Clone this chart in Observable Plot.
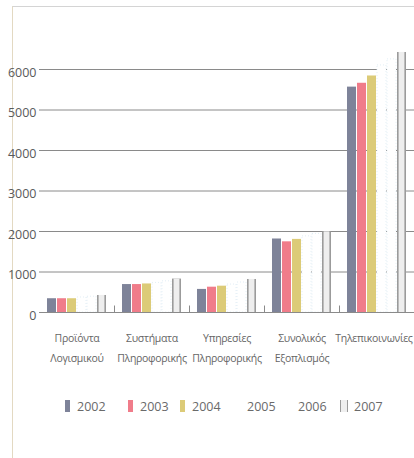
<!DOCTYPE html>
<html>
<head>
<meta charset="utf-8">
<script src="https://cdn.jsdelivr.net/npm/d3@7"></script>
<script src="https://cdn.jsdelivr.net/npm/@observablehq/plot@0.6"></script>
<style>
  html, body { margin: 0; padding: 0; background: #fff; }
  body { width: 414px; height: 458px; position: relative; overflow: hidden; font-family: "Open Sans", "Noto Sans", sans-serif; }
  #frame { position: absolute; left: 12px; top: 6px; right: 0; bottom: 0; border-left: 1px solid #e3d9c2; border-top: 1px solid #d4d4d4; }
  #chart { position: absolute; left: 0; top: 0; }
  #legend { position: absolute; left: 0; top: 398px; width: 414px; height: 20px; font-size: 12.5px; color: #6a6a6a; }
  .item { position: absolute; top: 0; display: flex; align-items: center; height: 16px; }
  .sw { display: inline-block; width: 5px; height: 12px; margin-right: 7px; }
  .sw7 { width: 6px; height: 12px; border-left: 1.5px solid #9b9b9b; border-right: 1.5px solid #9b9b9b; background: #efefef; margin-right: 6px; }
  .catlabel { letter-spacing: -0.3px; }
</style>
</head>
<body>
<div id="frame"></div>
<div id="chart"></div>
<div id="legend"></div>
<script>
const categories = ["Προϊόντα\nΛογισμικού", "Συστήματα\nΠληροφορικής", "Υπηρεσίες\nΠληροφορικής", "Συνολικός\nΕξοπλισμός", "Τηλεπικοινωνίες"];
const years = ["2002", "2003", "2004", "2005", "2006", "2007"];
const values2002 = [340, 690, 570, 1815, 5565];
const values2003 = [340, 690, 625, 1745, 5660];
const values2004 = [340, 705, 650, 1805, 5840];
const values2005 = [370, 730, 690, 1880, 6100];
const values2006 = [390, 770, 740, 1940, 6250];
const values2007 = [420, 825, 815, 1990, 6420];
const yTicks = [0, 1000, 2000, 3000, 4000, 5000, 6000];
const colors = ["#7e8399", "#f07c8a", "#dccb78", "#ffffff", "#ffffff", "#9b9b9b"];

const series = [values2002, values2003, values2004, values2005, values2006, values2007];
const data = [];
years.forEach((yr, i) => categories.forEach((c, j) => data.push({year: yr, category: c, value: series[i][j]})));
const solid = data.filter(d => ["2002", "2003", "2004"].includes(d.year));
const faint = data.filter(d => ["2005", "2006"].includes(d.year));
const last = data.filter(d => d.year === "2007");

const chart = Plot.plot({
  width: 414,
  height: 372,
  marginLeft: 39,
  marginRight: 0,
  marginTop: 69,
  marginBottom: 60,
  style: {fontFamily: "'Open Sans', 'Noto Sans', sans-serif", background: "transparent"},
  fx: {domain: categories, padding: 0, label: null},
  x: {domain: years, paddingInner: 0.15, paddingOuter: 0.825, axis: null},
  y: {domain: [0, 6000], label: null},
  color: {domain: years, range: colors},
  marks: [
    Plot.gridY({ticks: yTicks, stroke: "#8a8a8a", strokeOpacity: 1, strokeWidth: 1}),
    Plot.barY(solid, {fx: "category", x: "year", y: "value", fill: "year"}),
    Plot.barY(faint, {fx: "category", x: "year", y: "value", fill: "#ffffff", stroke: "#d6e7f1", strokeWidth: 0.7, strokeDasharray: "1,2"}),
    Plot.barY(last, {fx: "category", x: "year", y: "value", fill: "#9b9b9b"}),
    Plot.barY(last, {fx: "category", x: "year", y: "value", fill: "#eeeeee", insetLeft: 1.6, insetRight: 1.6}),
    Plot.ruleY([0], {stroke: "#8a8a8a"}),
    Plot.ruleX(categories.slice(0, 4), {fx: d => d, x: () => "2007", y1: 0, y2: 160, dx: 12.5, stroke: "#8a8a8a"}),
    Plot.axisY({ticks: yTicks, tickSize: 0, tickPadding: 3, dy: 3, fontSize: 12.5, fill: "#5a5a5a", tickFormat: d => String(d), label: null}),
    Plot.axisFx({anchor: "bottom", tickSize: 0, tickPadding: 16, lineHeight: 1.85, fontSize: 10.5, fill: "#666", label: null})
  ]
});
const catSet = new Set(categories.map(c => c.replace("\n", "")));
d3.select(chart).selectAll("text")
  .filter(function () { return catSet.has(this.textContent.replace(/\s/g, "")); })
  .classed("catlabel", true)
  .filter(function () { return this.textContent === categories[4]; })
  .attr("dx", -3);
document.getElementById("chart").appendChild(chart);

const legendLeft = [65, 128, 180, 247, 298, 340];
const legend = document.getElementById("legend");
years.forEach((yr, i) => {
  const item = document.createElement("div");
  item.className = "item";
  item.style.left = legendLeft[i] + "px";
  if (i < 3) {
    const sw = document.createElement("span");
    sw.className = "sw";
    sw.style.background = colors[i];
    item.appendChild(sw);
  } else if (i === 5) {
    const sw = document.createElement("span");
    sw.className = "sw7";
    item.appendChild(sw);
  }
  const t = document.createElement("span");
  t.textContent = yr;
  item.appendChild(t);
  legend.appendChild(item);
});
</script>
</body>
</html>
